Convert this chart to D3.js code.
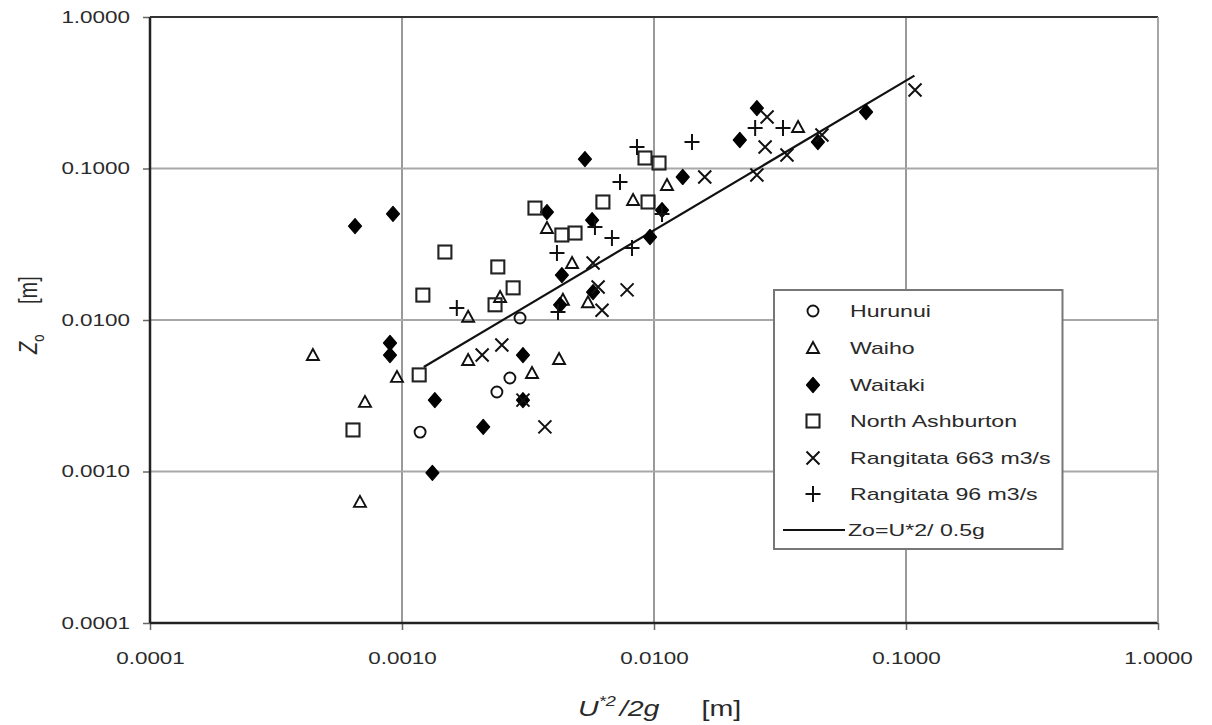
<!DOCTYPE html>
<html><head><meta charset="utf-8">
<script src="https://cdn.jsdelivr.net/npm/d3@7"></script>
<style>
html,body{margin:0;padding:0;background:#fff;}
svg{display:block;}
</style></head>
<body>
<svg id="chart" width="1212" height="725"></svg>
<script>
// ---- data ----
const xTicks = [0.0001, 0.001, 0.01, 0.1, 1];
const yTicks = [0.0001, 0.001, 0.01, 0.1, 1];
const seriesNames = ["Hurunui","Waiho","Waitaki","North Ashburton","Rangitata 663 m3/s","Rangitata 96 m3/s"];
const lineName = "Zo=U*2/ 0.5g";

const hurunui = [[0.00118,0.00182],[0.00238,0.00335],[0.00268,0.00414],[0.00294,0.0103]];
const waiho = [[0.000443,0.00587],[0.000681,0.00063],[0.000713,0.00288],[0.000955,0.00421],
  [0.00183,0.0105],[0.00183,0.00544],[0.00245,0.0142],[0.00328,0.00447],[0.00376,0.0405],
  [0.0042,0.00553],[0.00435,0.0136],[0.00473,0.0238],[0.00547,0.0131],[0.00826,0.0620],
  [0.01126,0.0778],[0.0373,0.1879]];
const waitaki = [[0.000651,0.0417],[0.000921,0.0501],[0.000896,0.00705],[0.000896,0.00587],
  [0.00135,0.00296],[0.00132,0.00098],[0.0021,0.00197],[0.00302,0.00587],[0.00302,0.00296],
  [0.00376,0.0516],[0.00532,0.1155],[0.00568,0.0457],[0.00431,0.0198],[0.00424,0.0126],
  [0.00573,0.0153],[0.00964,0.0353],[0.01076,0.0532],[0.0130,0.0879],[0.0219,0.1542],
  [0.0256,0.2507],[0.0447,0.1496],[0.0694,0.2360]];
const northAshburton = [[0.000639,0.00188],[0.00117,0.00434],[0.00121,0.0146],[0.00148,0.0281],
  [0.0024,0.0224],[0.00276,0.0163],[0.00234,0.0126],[0.00337,0.0548],[0.00431,0.0364],
  [0.00486,0.0375],[0.00627,0.0601],[0.00947,0.0601],[0.00921,0.1173],[0.01047,0.1087]];
const rangitata663 = [[0.00208,0.00587],[0.00249,0.00684],[0.00369,0.00197],[0.00302,0.00296],
  [0.00573,0.0238],[0.0060,0.0165],[0.00622,0.0116],[0.00782,0.0158],[0.0159,0.0879],
  [0.0256,0.0906],[0.0276,0.1386],[0.0281,0.2188],[0.0337,0.1228],[0.0464,0.1664],[0.1086,0.3298]];
const rangitata96 = [[0.00165,0.0120],[0.00412,0.0277],[0.00416,0.0113],[0.00583,0.0411],
  [0.00681,0.0348],[0.00733,0.0814],[0.00818,0.0299],[0.00856,0.1386],[0.01076,0.0501],
  [0.01415,0.1496],[0.0252,0.1850],[0.0325,0.1850]];
const fitLine = [[0.00122,0.0049],[0.108,0.41]];

// ---- chart ----
const svg = d3.select("#chart");
const L=150, R=1158, T=17, B=623;
const x = d3.scaleLog().domain([0.0001,1]).range([L,R]);
const y = d3.scaleLog().domain([0.0001,1]).range([B,T]);
const fontFam = "'Liberation Sans', Arial, sans-serif";
const textCol = "#2a2a2a";
const STRETCH = 1.36;
function stretch(sel, f){
  sel.each(function(){
    const len = this.getComputedTextLength();
    d3.select(this).attr("textLength", len*f).attr("lengthAdjust","spacingAndGlyphs");
  });
}

// grid
const g = svg.append("g");
g.selectAll(".vg").data(xTicks.slice(1)).join("line")
  .attr("x1",d=>x(d)).attr("x2",d=>x(d)).attr("y1",T).attr("y2",B)
  .attr("stroke","#9a9a9a").attr("stroke-width",2);
g.selectAll(".hg").data(yTicks.slice(1,-1)).join("line")
  .attr("x1",L).attr("x2",R).attr("y1",d=>y(d)).attr("y2",d=>y(d))
  .attr("stroke","#a8a8a8").attr("stroke-width",2.2);

// axes
const yAxis = d3.axisLeft(y).tickValues(yTicks).tickFormat(d3.format(".4f")).tickSize(7).tickPadding(13);
const xAxis = d3.axisBottom(x).tickValues(xTicks).tickFormat(d3.format(".4f")).tickSize(7).tickPadding(22);
const ya = svg.append("g").attr("transform",`translate(${L},0)`).call(yAxis);
const xa = svg.append("g").attr("transform",`translate(0,${B})`).call(xAxis);
[ya,xa].forEach(a=>{
  a.select(".domain").remove();
  a.selectAll(".tick line").attr("stroke","#666").attr("stroke-width",1.5);
  a.selectAll(".tick text").attr("font-family",fontFam).attr("font-size",16.5).attr("fill",textCol);
  stretch(a.selectAll(".tick text"), STRETCH);
});
// frame
svg.append("line").attr("x1",L).attr("x2",L).attr("y1",T).attr("y2",B).attr("stroke","#222").attr("stroke-width",2.5);
svg.append("line").attr("x1",L).attr("x2",R).attr("y1",B).attr("y2",B).attr("stroke","#222").attr("stroke-width",2.5);
svg.append("line").attr("x1",L).attr("x2",R).attr("y1",T).attr("y2",T).attr("stroke","#333").attr("stroke-width",2);
svg.append("line").attr("x1",R).attr("x2",R).attr("y1",T).attr("y2",B).attr("stroke","#aaa").attr("stroke-width",1.5);

// markers
const sw = 1.9;
const drawers = {
  circle:(sel)=>sel.append("circle").attr("r",5.5).attr("fill","none").attr("stroke","#111").attr("stroke-width",sw),
  triangle:(sel)=>sel.append("path").attr("d","M0,-6L6,5L-6,5Z").attr("fill","none").attr("stroke","#111").attr("stroke-width",sw),
  diamond:(sel)=>sel.append("path").attr("d","M0,-7.5L6.5,0L0,7.5L-6.5,0Z").attr("fill","#000").attr("stroke","#000").attr("stroke-width",1.2).attr("stroke-linejoin","round"),
  square:(sel)=>sel.append("rect").attr("x",-6.5).attr("y",-6.5).attr("width",13).attr("height",13).attr("fill","none").attr("stroke","#222").attr("stroke-width",2.1),
  cross:(sel)=>sel.append("path").attr("d","M-6.5,-6.5L6.5,6.5M-6.5,6.5L6.5,-6.5").attr("stroke","#111").attr("stroke-width",2),
  plus:(sel)=>sel.append("path").attr("d","M-7.5,0L7.5,0M0,-8L0,8").attr("stroke","#111").attr("stroke-width",2)
};
const seriesData = [hurunui,waiho,waitaki,northAshburton,rangitata663,rangitata96];
const shapes = ["circle","triangle","diamond","square","cross","plus"];

// fit line
svg.append("path").datum(fitLine)
  .attr("d",d3.line().x(d=>x(d[0])).y(d=>y(d[1])))
  .attr("stroke","#111").attr("stroke-width",2.2).attr("fill","none");

seriesData.forEach((data,i)=>{
  const gs = svg.append("g");
  data.forEach(d=>{
    const m = gs.append("g").attr("transform",`translate(${x(d[0])},${y(d[1])})`);
    drawers[shapes[i]](m);
  });
});

// legend
const lg = svg.append("g");
const box = lg.append("rect").attr("x",774).attr("y",290).attr("height",259)
  .attr("fill","#fff").attr("stroke","#777").attr("stroke-width",2);
const legY = [311,348,385,421,458,494];
let maxEnd = 0;
seriesNames.forEach((n,i)=>{
  const m = lg.append("g").attr("transform",`translate(813,${legY[i]})`);
  drawers[shapes[i]](m);
  const t = lg.append("text").attr("x",850).attr("y",legY[i]+6).text(n)
    .attr("font-family",fontFam).attr("font-size",17).attr("fill",textCol);
  stretch(t, STRETCH);
  maxEnd = Math.max(maxEnd, 850 + t.node().getComputedTextLength());
});
lg.append("line").attr("x1",783).attr("x2",845).attr("y1",530).attr("y2",530).attr("stroke","#111").attr("stroke-width",2);
const lt = lg.append("text").attr("x",848).attr("y",536).text(lineName)
  .attr("font-family",fontFam).attr("font-size",17).attr("fill",textCol);
stretch(lt, STRETCH);
box.attr("width", maxEnd + 12 - 774);

// axis titles
const xtg = svg.append("g").attr("transform","translate(578,716) scale(1.3,1)");
const xt = xtg.append("text").attr("x",0).attr("y",0)
  .attr("font-family",fontFam).attr("font-size",22).attr("fill",textCol);
xt.append("tspan").attr("font-style","italic").text("U");
xt.append("tspan").attr("font-style","italic").attr("font-size",14).attr("dy",-10).text("*2");
xt.append("tspan").attr("font-style","italic").attr("dy",10).attr("dx",3).text("/2g");
xt.append("tspan").attr("x",95).text("[m]");

const ytg = svg.append("g").attr("transform","translate(37,354) scale(1.3,1) rotate(-90)");
const yt = ytg.append("text").attr("x",0).attr("y",0)
  .attr("font-family",fontFam).attr("font-size",20).attr("fill",textCol);
yt.append("tspan").attr("font-style","italic").text("Z");
yt.append("tspan").attr("font-size",13).attr("dy",5).text("o");
yt.append("tspan").attr("x",50).attr("dy",-5).text("[m]");
</script>
</body></html>
